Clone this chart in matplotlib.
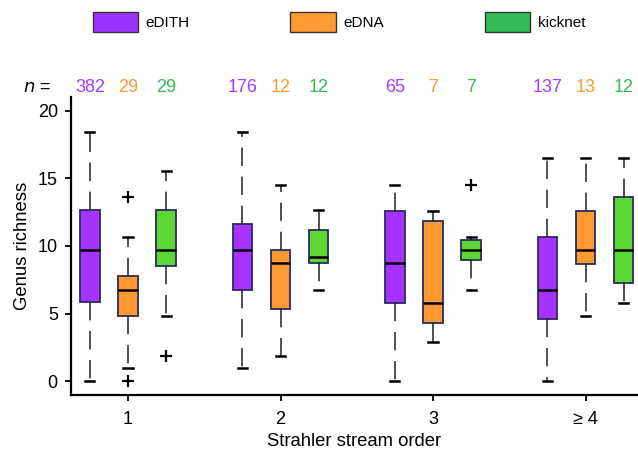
import matplotlib
matplotlib.use("Agg")
import matplotlib.pyplot as plt
from matplotlib.patches import Patch
from matplotlib.transforms import blended_transform_factory

plt.rcParams["font.family"] = ["Liberation Sans", "DejaVu Sans"]

# ---- data ----
orders = ["1", "2", "3", "\u2265 4"]
methods = ["eDITH", "eDNA", "kicknet"]
n_edith = [382, 176, 65, 137]
n_edna = [29, 12, 7, 13]
n_kicknet = [29, 12, 7, 12]

edith_lo = [0.0, 0.95, 0.0, 0.0]
edith_q1 = [5.83, 6.73, 5.80, 4.58]
edith_med = [9.67, 9.67, 8.71, 6.73]
edith_q3 = [12.66, 11.63, 12.60, 10.65]
edith_hi = [18.43, 18.43, 14.52, 16.47]
edith_out = [[], [], [], []]

edna_lo = [0.95, 1.88, 2.86, 4.82]
edna_q1 = [4.82, 5.31, 4.33, 8.69]
edna_med = [6.73, 8.71, 5.80, 9.67]
edna_q3 = [7.76, 9.67, 11.87, 12.60]
edna_hi = [10.65, 14.52, 12.60, 16.47]
edna_out = [[13.59, 0.0], [], [], []]

kick_lo = [4.82, 6.73, 6.73, 5.80]
kick_q1 = [8.49, 8.71, 8.94, 7.25]
kick_med = [9.67, 9.18, 9.67, 9.67]
kick_q3 = [12.66, 11.14, 10.40, 13.59]
kick_hi = [15.50, 12.66, 10.65, 16.47]
kick_out = [[1.88], [], [14.52], []]

# ---- style ----
box_colors = ["#a633ff", "#ff9933", "#5cd633"]
legend_colors = ["#9933ff", "#ff9933", "#33bb55"]
text_colors = ["#9f3fff", "#ff9933", "#33bb55"]
edge_color = "#2b2b5e"
offsets = [-0.25, 0.0, 0.25]
box_w = 0.127

series = [
    (edith_lo, edith_q1, edith_med, edith_q3, edith_hi, edith_out),
    (edna_lo, edna_q1, edna_med, edna_q3, edna_hi, edna_out),
    (kick_lo, kick_q1, kick_med, kick_q3, kick_hi, kick_out),
]
counts = [n_edith, n_edna, n_kicknet]

fig = plt.figure(figsize=(6.38, 4.51), dpi=100)
ax = fig.add_axes([0.1113, 0.1248, 0.8887, 0.66])
top_row = blended_transform_factory(ax.transData, fig.transFigure)
n_y = 1 - 88 / 451

for k, (lo, q1, med, q3, hi, out) in enumerate(series):
    stats = []
    for i in range(len(orders)):
        stats.append(dict(whislo=lo[i], q1=q1[i], med=med[i], q3=q3[i],
                          whishi=hi[i], fliers=out[i]))
    pos = [i + 1 + offsets[k] for i in range(len(orders))]
    ax.bxp(
        stats,
        positions=pos,
        widths=box_w,
        capwidths=0.06,
        patch_artist=True,
        boxprops=dict(facecolor=box_colors[k], edgecolor=edge_color, linewidth=1.3),
        medianprops=dict(color="black", linewidth=1.8),
        whiskerprops=dict(color="#222222", linewidth=1.1, linestyle=(0, (12, 7))),
        capprops=dict(color="black", linewidth=1.8),
        flierprops=dict(marker="+", markeredgecolor="black", markersize=8,
                        markeredgewidth=1.6, linestyle="none"),
        manage_ticks=False,
    )
    # sample sizes above each box
    for x, n in zip(pos, counts[k]):
        ax.text(x, n_y, str(n), transform=top_row, fontsize=13,
                color=text_colors[k], ha="center", va="center", clip_on=False)

ax.set_xlim(0.626, 4.344)
ax.set_ylim(-1, 21)
ax.set_xticks(range(1, len(orders) + 1))
ax.set_xticklabels(orders)
ax.set_yticks([0, 5, 10, 15, 20])
ax.spines["top"].set_visible(False)
ax.spines["right"].set_visible(False)
ax.spines["left"].set_linewidth(1.6)
ax.spines["bottom"].set_linewidth(1.6)
ax.tick_params(axis="both", direction="out", length=4.5, width=1.3, labelsize=13)
ax.tick_params(axis="y", pad=5)
ax.tick_params(axis="x", pad=7)
ax.set_ylabel("Genus richness", fontsize=13.3, labelpad=5)
ax.set_xlabel("Strahler stream order", fontsize=13.3, labelpad=4)

fig.text(37.5 / 638, n_y, "$n$ =", fontsize=13, ha="center", va="center")

handles = [Patch(facecolor=legend_colors[k], edgecolor="#333333", linewidth=1.0)
           for k in range(len(methods))]
fig.legend(handles, methods, ncol=3, loc="center", bbox_to_anchor=(339 / 638, 1 - 22 / 451),
           frameon=False, fontsize=11, handlelength=2.95, handleheight=1.61,
           handletextpad=0.52, columnspacing=6.6, borderpad=0.2)

fig.savefig("out.png", dpi=100)
